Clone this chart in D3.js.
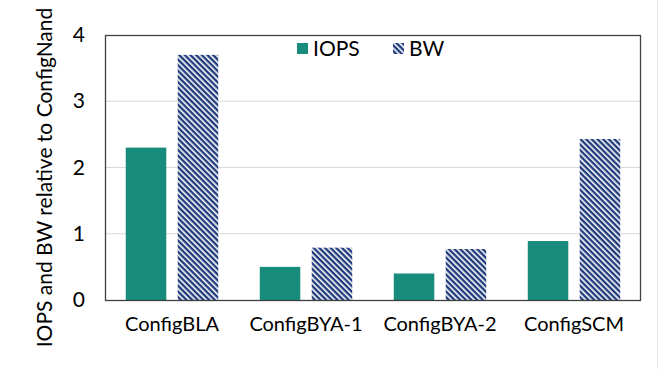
<!DOCTYPE html>
<html><head><meta charset="utf-8">
<script src="https://cdn.jsdelivr.net/npm/d3@7"></script>
<style>body{margin:0;background:#fff}svg{display:block}text{font-family:Lato,"Open Sans",sans-serif;fill:#000}</style>
</head><body><svg id="c" width="658" height="369"></svg>
<script>
const categories = ["ConfigBLA","ConfigBYA-1","ConfigBYA-2","ConfigSCM"];
const seriesNames = ["IOPS","BW"];
const iops = [2.3, 0.5, 0.4, 0.89];
const bw = [3.7, 0.79, 0.77, 2.43];
const yTicks = [0,1,2,3,4];
const yTitle = "IOPS and BW relative to ConfigNand";

const svg = d3.select("#c");
const m = {l:105, r:641, t:35, b:300};
const defs = svg.append("defs");
const pat = defs.append("pattern").attr("id","hatch").attr("patternUnits","userSpaceOnUse")
  .attr("width",4).attr("height",4).attr("patternTransform","rotate(45)");
pat.append("rect").attr("width",4).attr("height",4).attr("fill","#fff");
pat.append("rect").attr("width",4).attr("height",2.4).attr("fill","#1f3b7c");

const x0 = d3.scaleBand().domain(categories).range([m.l,m.r]).paddingInner(0.31).paddingOuter(0.155);
const x1 = d3.scaleBand().domain(seriesNames).range([0,x0.bandwidth()]).paddingInner(0.22);
const y = d3.scaleLinear().domain([0,4]).range([m.b,m.t]);

svg.append("g").selectAll("line").data(yTicks.slice(1,-1)).join("line")
  .attr("x1",m.l).attr("x2",m.r).attr("y1",d=>y(d)).attr("y2",d=>y(d))
  .attr("stroke","#d9d9d9").attr("stroke-width",1);

const fills = {IOPS:"#178c7c", BW:"url(#hatch)"};
const data = categories.map((c,i)=>({c, vals:[{k:"IOPS",v:iops[i]},{k:"BW",v:bw[i]}]}));
svg.append("g").selectAll("g").data(data).join("g")
  .attr("transform",d=>`translate(${x0(d.c)},0)`)
  .selectAll("rect").data(d=>d.vals).join("rect")
  .attr("x",d=>x1(d.k)).attr("width",x1.bandwidth())
  .attr("y",d=>y(d.v)).attr("height",d=>y(0)-y(d.v))
  .attr("fill",d=>fills[d.k]);

svg.append("rect").attr("x",m.l+0.5).attr("y",m.t+0.5).attr("width",m.r-m.l-1).attr("height",m.b-m.t)
  .attr("fill","none").attr("stroke","#404040").attr("stroke-width",1.3);

const ya = d3.axisLeft(y).tickValues(yTicks).tickSize(0).tickPadding(20).tickFormat(d3.format("d"));
const gy = svg.append("g").attr("transform",`translate(${m.l},0)`).call(ya);
gy.select(".domain").remove();
gy.selectAll("text").style("font-size","21px").style("font-family","Lato").attr("fill","#000");

const xa = d3.axisBottom(x0).tickSize(0).tickPadding(17);
const gx = svg.append("g").attr("transform",`translate(0,${m.b})`).call(xa);
gx.select(".domain").remove();
gx.selectAll("text").style("font-size","20px").style("font-family","Lato").attr("fill","#000");

svg.append("text").attr("transform",`translate(52,${(10+345)/2}) rotate(-90)`)
  .attr("text-anchor","middle").style("font-size","21px").text(yTitle);

const leg = svg.append("g").attr("transform","translate(297,38)");
seriesNames.forEach((s,i)=>{
  const gx0 = i*96;
  leg.append("rect").attr("x",gx0).attr("y",5).attr("width",11).attr("height",11).attr("fill",fills[s]);
  leg.append("text").attr("x",gx0+16).attr("y",18).style("font-size","21px").text(s);
});

svg.append("line").attr("x1",657.5).attr("x2",657.5).attr("y1",0).attr("y2",369).attr("stroke","#e6e6e6");
</script></body></html>
